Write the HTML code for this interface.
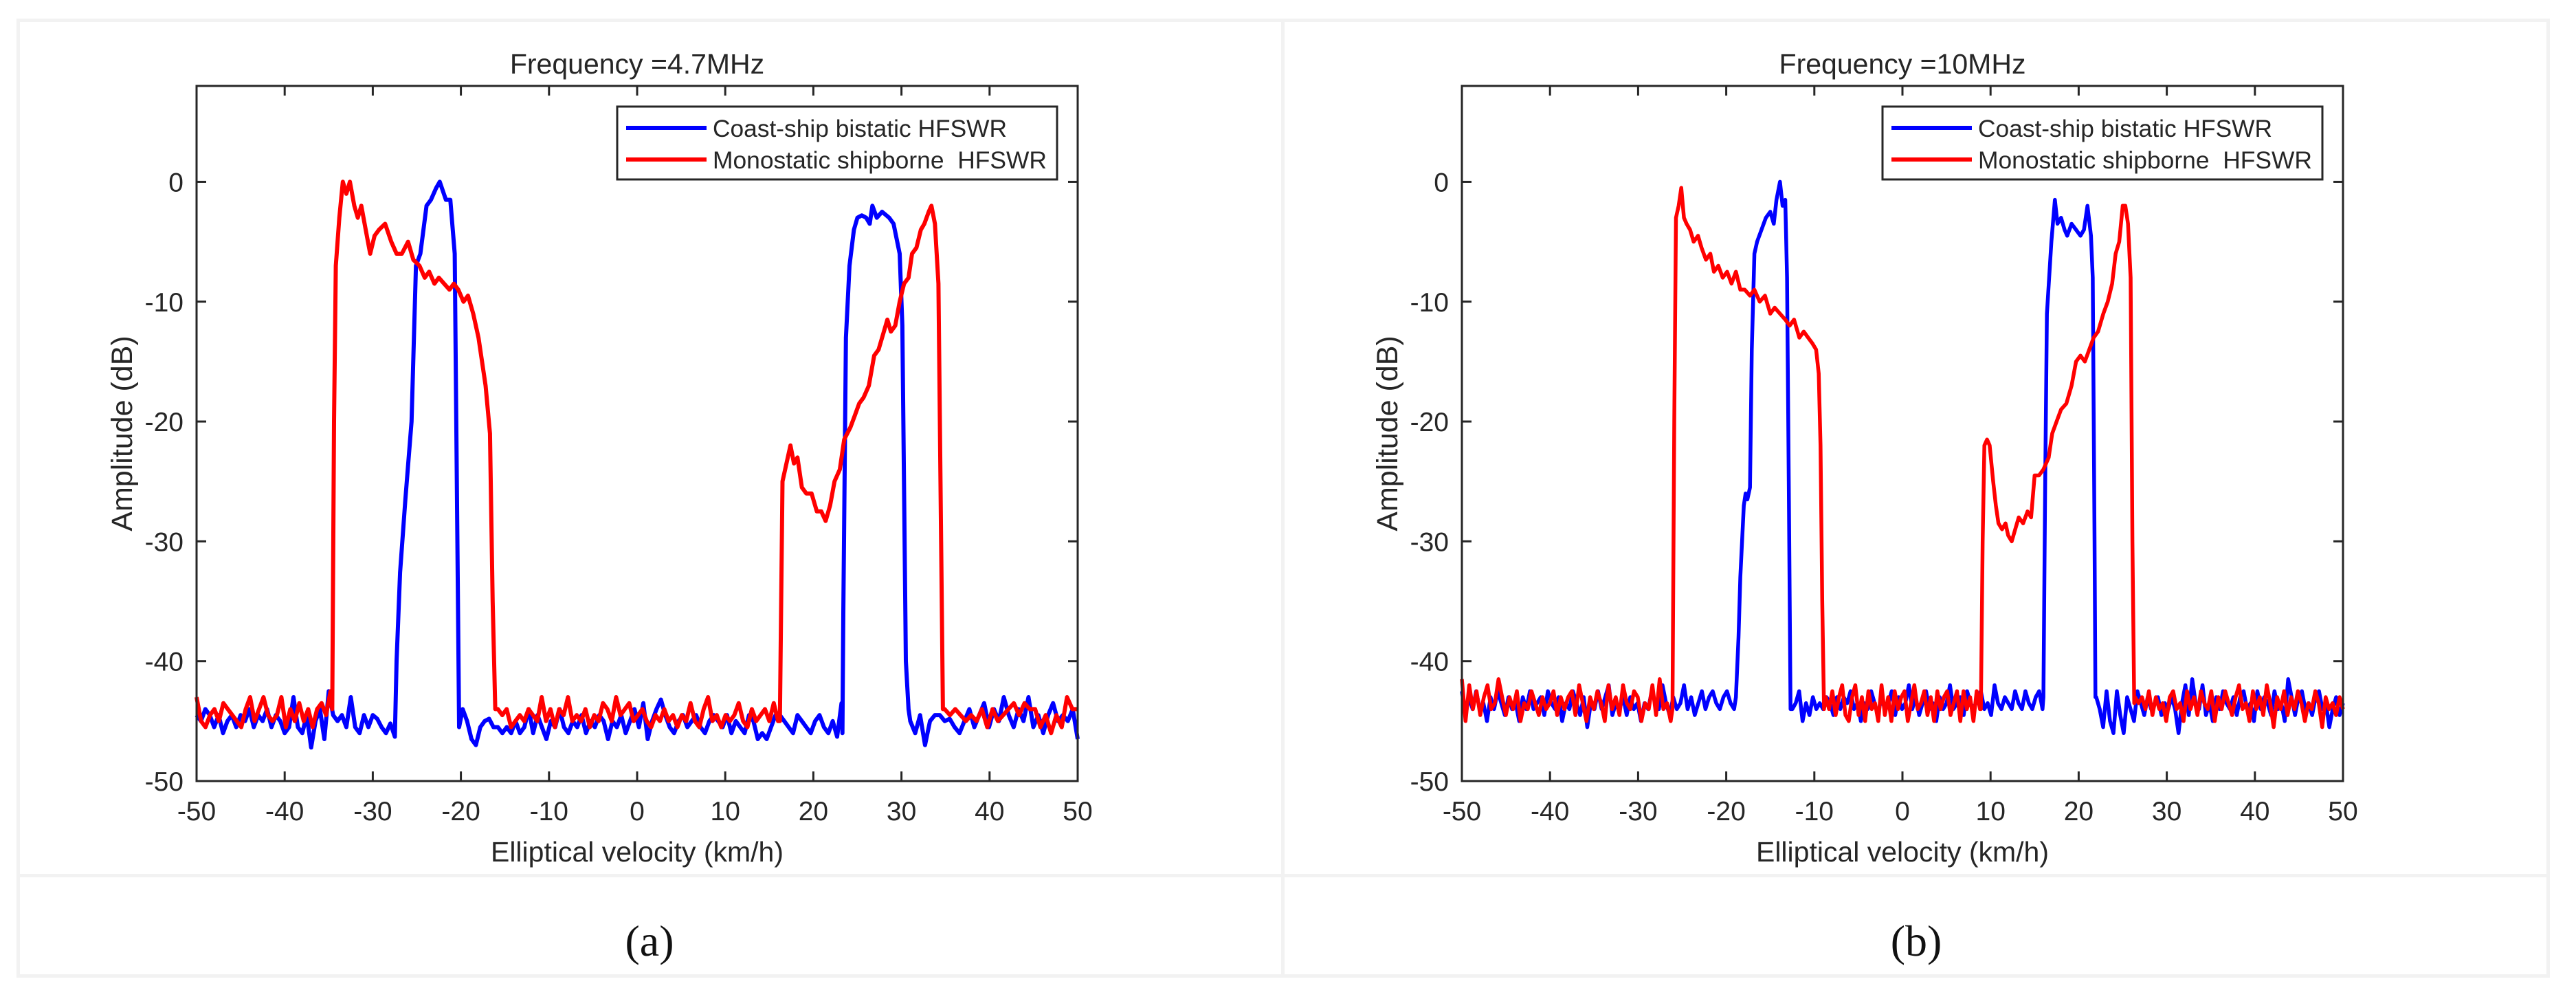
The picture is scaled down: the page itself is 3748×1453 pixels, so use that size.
<!DOCTYPE html>
<html><head><meta charset="utf-8"><style>
html,body{margin:0;padding:0;background:#fff;}
svg{display:block;}
text{font-family:"Liberation Sans",sans-serif;fill:#262626;}
</style></head><body>
<svg id="fig" width="3748" height="1453" viewBox="0 0 3748 1453" xmlns="http://www.w3.org/2000/svg">
<g fill="#f2f2f2">
<rect x="24" y="27" width="3686" height="5"/>
<rect x="24" y="27" width="5" height="1395"/>
<rect x="3705" y="27" width="5" height="1395"/>
<rect x="24" y="1417" width="3686" height="5"/>
<rect x="24" y="1271" width="3686" height="5"/>
<rect x="1864" y="27" width="5" height="1395"/>
</g>
<text x="945" y="1390" text-anchor="middle" style="font-family:'Liberation Serif',serif;font-size:64px;fill:#111">(a)</text>
<text x="2788" y="1390" text-anchor="middle" style="font-family:'Liberation Serif',serif;font-size:64px;fill:#111">(b)</text>
</svg>
<script>
// ---------- data: panel (a) 4.7 MHz ----------
const xTicks = [-50,-40,-30,-20,-10,0,10,20,30,40,50];
const yTicks = [0,-10,-20,-30,-40,-50];
const seriesNames = ["Coast-ship bistatic HFSWR","Monostatic shipborne\u00a0 HFSWR"];
const titles = ["Frequency =4.7MHz","Frequency =10MHz"];

const aBlueNoise1 = [-44.5,-45,-44,-44.5,-45.5,-44.5,-46,-45,-44.5,-45.5,-44.5,-45,-44,-45.5,-44.5,-45,-44,-45.5,-44.5,-45,-46,-45.5,-43,-45.5,-46,-44.5,-47.2,-45,-44,-46.5,-42.5,-44.5,-45,-44.5,-45.5,-43,-45.5,-46,-44.5,-45.5,-44.5,-44.8,-45.5,-46,-45.2,-46.3];
const aBluePeak1 = [[-27.3,-40],[-26.9,-32.6],[-26.3,-26.5],[-25.6,-20],[-25.1,-7],[-24.6,-6],[-23.9,-2],[-23.4,-1.5],[-22.8,-0.5],[-22.4,0],[-21.7,-1.5],[-21.2,-1.5],[-20.7,-6],[-20.2,-45.5]];
const aBlueNoise2 = [-44,-45,-46.5,-47,-45.5,-45,-44.8,-45.5,-45.5,-46,-45.5,-46,-45,-46,-45.5,-44,-46,-44.5,-45.5,-46.5,-45,-45.5,-44,-45.5,-46,-45,-45.5,-44.5,-46,-45,-45.5,-44.5,-45,-46.5,-45,-45.5,-44.5,-46,-45,-44,-45.5,-43.5,-46.5,-45,-44,-43.2,-44.5,-45.5,-46,-45,-44.5,-45.5,-45,-44.5,-45.5,-46,-45,-44.5,-45,-45.5,-44.5,-46,-45,-45.5,-46,-44.5,-45,-46.5,-46,-46.5,-45.5,-44.5,-44.5,-45,-45.5,-46,-44.5,-45,-45.5,-46,-45,-44.5,-45.5,-46,-45,-46.3,-43.5];
const aBluePeak2 = [[23.3,-46],[23.4,-36],[23.7,-13],[24.1,-7],[24.6,-4],[25.0,-3],[25.5,-2.8],[26.0,-3],[26.4,-3.5],[26.7,-2],[27.2,-3],[27.8,-2.5],[28.6,-3],[29.1,-3.5],[29.8,-6],[30.1,-12],[30.5,-40],[30.8,-44]];
const aBlueNoise3 = [-45,-46,-44.5,-47,-45,-44.5,-44.5,-45,-44.8,-45.5,-46,-45,-44,-45.5,-44.5,-43.5,-45.5,-44,-45,-43,-44.5,-45.5,-44,-45,-43,-45.5,-44.5,-46,-44.5,-43.5,-45,-44.5,-45,-44,-46.5];

const aRedNoise1 = [-43,-45,-45.5,-44.5,-44,-45,-43.5,-44,-44.5,-45,-45.5,-44,-43,-45,-44,-43,-44.5,-45,-44.5,-43,-45.5,-44,-45,-43.5,-45,-44,-45.5,-44,-43.5,-44.5,-42.5];
const aRedPeak1 = [[-34.6,-44],[-34.4,-20],[-34.2,-7],[-33.8,-3],[-33.4,0],[-33.0,-1],[-32.6,0],[-32.1,-2],[-31.7,-3],[-31.3,-2],[-30.8,-4],[-30.3,-6],[-29.8,-4.5],[-29.3,-4],[-28.6,-3.5],[-27.9,-5],[-27.3,-6],[-26.7,-6],[-26.0,-5],[-25.4,-6.5],[-24.7,-7],[-24.1,-8],[-23.6,-7.5],[-23.0,-8.5],[-22.5,-8],[-21.9,-8.5],[-21.3,-9],[-20.8,-8.5],[-20.3,-9],[-19.7,-10],[-19.2,-9.5],[-18.6,-11],[-18.0,-13],[-17.2,-17],[-16.7,-21],[-16.4,-35],[-16.1,-44]];
const aRedNoise2 = [-44,-44.5,-44,-45.5,-45,-44.5,-45,-44,-44.5,-45,-43,-45,-44,-45.5,-44,-44.5,-43,-45,-44.5,-45,-44,-45.5,-44.5,-45,-43.5,-44,-45,-43,-44.5,-44,-43.5,-45,-44.5,-44,-45,-45.5,-44.5,-45,-44,-45,-44.5,-45.5,-44.5,-45,-43.5,-45,-45.5,-44,-43,-45,-44.5,-45.5,-44.5,-45,-44.5,-43.5,-45,-45.5,-44,-45,-44.5,-44,-45,-43.5,-45];
const aRedPeak2 = [[16.2,-45],[16.5,-25],[17.1,-23],[17.4,-22],[17.8,-23.5],[18.2,-23],[18.7,-25.5],[19.2,-26],[19.8,-26],[20.4,-27.5],[20.9,-27.5],[21.4,-28.3],[21.9,-27],[22.4,-25],[23.0,-24],[23.5,-21.5],[24.2,-20.5],[24.7,-19.5],[25.2,-18.5],[25.7,-18],[26.3,-17],[26.9,-14.5],[27.4,-14],[28.0,-12.5],[28.4,-11.5],[28.8,-12.5],[29.3,-12],[29.8,-10],[30.3,-8.5],[30.8,-8],[31.2,-6],[31.7,-5.5],[32.2,-4],[32.6,-3.5],[33.1,-2.5],[33.4,-2],[33.8,-3.5],[34.2,-8.5],[34.5,-30],[34.7,-44]];
const aRedNoise3 = [-44,-44.5,-44,-44.5,-45,-44.5,-45,-44,-45.5,-44,-45,-44.5,-44,-43.5,-44.5,-43.5,-44,-44,-45.5,-44.5,-46,-44.5,-45.5,-43,-44,-44];

// ---------- data: panel (b) 10 MHz ----------
const bBlueNoise1 = [-42.5,-44.5,-43,-44,-42.5,-44,-43.5,-45,-43,-44,-42.5,-43.5,-44.5,-43,-44,-43.5,-45,-43,-44,-42.5,-44,-43.5,-43,-44.5,-42.5,-43.5,-44,-43,-45,-43.5,-44,-42.5,-43.5,-44.5,-43,-45.5,-43.5,-44,-42.5,-44,-43,-42,-44.5,-43.5,-44,-43,-44.5,-43,-44,-43.5,-45,-43.5,-44,-42.5,-43.5,-44,-42,-43.5,-44.5,-43,-44,-43.5,-42,-44,-43,-44.5,-43.5,-42.5,-44,-43,-42.5,-43.5,-44,-43,-42.5,-43.5,-44];
const bBluePeak1 = [[-18.9,-43],[-18.6,-38],[-18.4,-33],[-18.0,-27],[-17.8,-26],[-17.6,-26.5],[-17.3,-25.5],[-17.1,-14],[-16.8,-6],[-16.5,-5],[-16.0,-4],[-15.5,-3],[-15.0,-2.5],[-14.6,-3.5],[-14.3,-1.5],[-13.9,0],[-13.6,-2],[-13.3,-1.5],[-13.1,-8],[-12.9,-25],[-12.7,-44]];
const bBlueNoise2 = [-44,-43.5,-42.5,-45,-43.5,-44.5,-43,-44,-43.5,-44,-43,-43.5,-44.5,-43,-44,-43,-43.5,-42.5,-44,-43.5,-45,-43.5,-44,-42.5,-43.5,-44.5,-43,-44,-43.5,-42.5,-44.5,-43,-44,-43.5,-42,-44,-43,-44.5,-43.5,-42.5,-44,-43.5,-45,-43,-44,-43.5,-42,-44,-43.5,-43,-44.5,-42.5,-43.5,-44,-43,-42.5,-44,-43.5,-44.5,-42,-43.5,-44,-43,-43.5,-44,-42.5,-43.5,-44,-42.5,-43.5,-44,-43,-42.5,-44];
const bBluePeak2 = [[16.0,-43],[16.2,-25],[16.4,-11],[16.9,-5],[17.3,-1.5],[17.6,-3.5],[18.0,-3],[18.4,-4],[18.7,-4.5],[19.2,-3.5],[19.7,-4],[20.2,-4.5],[20.6,-4],[21.0,-2],[21.4,-4.5],[21.6,-8],[21.8,-30],[21.9,-43]];
const bBlueNoise3 = [-43,-44,-45.5,-42.5,-45,-46,-42.5,-44.5,-46,-43,-44,-45,-42.5,-43.5,-44.5,-43,-44,-43.5,-43,-44.5,-43.5,-44,-43,-44,-46,-43.5,-42,-44.5,-41.5,-43.5,-44,-42,-44.5,-43.5,-45,-43,-44,-42.5,-43.5,-44,-43,-44.5,-43,-42.5,-44,-43.5,-45,-42.5,-44,-43,-43.5,-44.5,-42.5,-44,-43.5,-45,-41.5,-43,-44.5,-43,-42.5,-44,-43.5,-44.5,-43,-42.5,-44,-43.5,-45.5,-44,-43,-44.5,-43.5];

const bRedNoise1 = [-41.5,-45,-42,-44,-42.5,-44.5,-43,-42,-44,-43.5,-41.5,-43,-44.5,-43,-44,-42.5,-45,-43.5,-44,-42.5,-43.5,-44.5,-43,-44,-43.5,-42.5,-44.5,-43,-44,-43,-42.5,-44.5,-42,-43.5,-45,-43,-44,-42.5,-43.5,-45,-42,-44,-43,-44.5,-42,-43.5,-44,-42.5,-43,-45,-43.5,-44,-42,-44.5,-41.5,-44,-43.5,-45];
const bRedPeak1 = [[-26.1,-44],[-25.9,-20],[-25.7,-3],[-25.4,-2],[-25.1,-0.5],[-24.8,-3],[-24.5,-3.5],[-24.1,-4],[-23.7,-5],[-23.2,-4.5],[-22.8,-5.5],[-22.3,-6.5],[-21.8,-6],[-21.4,-7.5],[-20.9,-7],[-20.4,-8],[-19.9,-7.5],[-19.4,-8.5],[-18.9,-7.5],[-18.4,-9],[-17.9,-9],[-17.3,-9.5],[-16.8,-9],[-16.2,-10],[-15.6,-9.5],[-15.0,-11],[-14.5,-10.5],[-13.9,-11],[-13.3,-11.5],[-12.8,-12],[-12.3,-11.5],[-11.7,-13],[-11.2,-12.5],[-10.7,-13],[-10.2,-13.5],[-9.8,-14],[-9.5,-16],[-9.3,-22],[-9.1,-35],[-8.9,-44]];
const bRedNoise2 = [-43,-44,-42.5,-44.5,-43,-42,-44.5,-45,-43,-42,-44.5,-43,-45,-42.5,-44,-43.5,-45,-42,-44.5,-43,-45,-42.5,-44,-43,-42.5,-45,-43.5,-42,-44,-43.5,-42.5,-44.5,-43,-45,-42.5,-44,-43,-42.5,-44.5,-43.5,-42.5,-45,-42.5,-44,-43,-45,-42.5,-44];
const bRedPeak2 = [[8.9,-44],[9.1,-30],[9.3,-22],[9.6,-21.5],[9.9,-22],[10.3,-25],[10.6,-27],[10.9,-28.5],[11.3,-29],[11.7,-28.5],[12.0,-29.5],[12.4,-30],[12.8,-29],[13.2,-28],[13.7,-28.5],[14.2,-27.5],[14.6,-28],[15.0,-24.5],[15.5,-24.5],[16.0,-24],[16.6,-23],[17.0,-21],[17.5,-20],[18.0,-19],[18.6,-18.5],[19.2,-17],[19.7,-15],[20.2,-14.5],[20.7,-15],[21.2,-14],[21.7,-13],[22.2,-12.5],[22.8,-11],[23.3,-10],[23.8,-8.5],[24.2,-6],[24.6,-5],[25.0,-2],[25.3,-2],[25.6,-3.5],[25.9,-8],[26.1,-30],[26.3,-43.5]];
const bRedNoise3 = [-43,-43.5,-43,-44,-42.5,-44.5,-43,-44,-43.5,-45,-43,-42.5,-44,-43.5,-45,-42.5,-44,-43,-44.5,-42.5,-43.5,-44,-42.5,-45,-43,-44,-42.5,-43.5,-44.5,-43,-42,-44,-43.5,-45,-42.5,-44,-43,-44.5,-42,-43.5,-45.5,-43,-44,-42.5,-44.5,-43,-44,-42.5,-43.5,-45,-43.5,-44,-42.5,-43.5,-45.5,-43,-44,-43.5,-44.5,-43,-44];

const NS = "http://www.w3.org/2000/svg";
const svg = document.getElementById('fig');
function mk(tag, attrs, parent){const e=document.createElementNS(NS,tag);for(const k in attrs)e.setAttribute(k,attrs[k]);(parent||svg).appendChild(e);return e;}

function buildSeries(parts){
  const pts=[];
  parts.forEach(p=>{
    if(p.noise){const n=p.noise.length;p.noise.forEach((v,i)=>pts.push([p.x0+(p.x1-p.x0)*i/(n-1),v]));}
    else p.pts.forEach(q=>pts.push(q));
  });
  return pts;
}

const legendWidths=[428,486];

function drawPanel(cfg){
  const L=cfg.left,R=cfg.left+1282,T=125,B=1136;
  const xS=v=>L+(v+50)/100*(R-L);
  const yS=v=>B-(v+50)/58*(B-T);
  const g=mk('g',{});
  
  
  cfg.series.forEach(s=>{
    const d=s.pts.map((p,i)=>(i?'L':'M')+xS(p[0]).toFixed(1)+' '+yS(p[1]).toFixed(1)).join('');
    const path=mk('path',{d:d,fill:'none',stroke:s.color,'stroke-width':cfg.lw,'stroke-linejoin':'round'},g);
    
    
  });
  const box=mk('rect',{x:L,y:T,width:R-L,height:B-T,fill:'none',stroke:'#262626','stroke-width':3},g);
  
  
  xTicks.forEach(t=>{
    const x=xS(t);
    mk('line',{x1:x,x2:x,y1:B,y2:B-14,stroke:'#262626','stroke-width':3},g);
    mk('line',{x1:x,x2:x,y1:T,y2:T+14,stroke:'#262626','stroke-width':3},g);
    const tx=mk('text',{x:x,y:1193,'text-anchor':'middle','font-size':39},g);
    tx.textContent=t;
    
    
  });
  yTicks.forEach(t=>{
    const y=yS(t);
    mk('line',{x1:L,x2:L+14,y1:y,y2:y,stroke:'#262626','stroke-width':3},g);
    mk('line',{x1:R,x2:R-14,y1:y,y2:y,stroke:'#262626','stroke-width':3},g);
    const ty=mk('text',{x:L-19,y:y+14,'text-anchor':'end','font-size':39},g);
    ty.textContent=t;
    
    
  });
  const title=mk('text',{x:(L+R)/2,y:107,'text-anchor':'middle','font-size':41,fill:'#000'},g);
  title.textContent=cfg.title;
  
  
  const xl=mk('text',{x:(L+R)/2,y:1253,'text-anchor':'middle','font-size':41},g);
  xl.textContent='Elliptical velocity (km/h)';
  
  
  const yl=mk('text',{x:0,y:0,'text-anchor':'middle','font-size':43,fill:'#404040',transform:'translate('+(L-94)+','+((T+B)/2)+') rotate(-90)'},g);
  yl.textContent='Amplitude (dB)';
  
  
  const lx=L+612;
  const leg=mk('g',{},g);
  
  
  mk('rect',{x:lx,y:155,width:640,height:106,fill:'#fff',stroke:'#262626','stroke-width':3},leg);
  cfg.series.forEach((s,i)=>{
    const y=186+i*46;
    const ent=mk('g',{},leg);
    
    
    mk('line',{x1:lx+13,x2:lx+130,y1:y,y2:y,stroke:s.color,'stroke-width':6},ent);
    const t=mk('text',{x:lx+139,y:y+13,'font-size':35,fill:'#000',textLength:legendWidths[i],lengthAdjust:'spacingAndGlyphs'},ent);
    t.textContent=seriesNames[i];
  });
}

drawPanel({name:'chart-a',left:286,lw:6,title:titles[0],series:[
  {name:'series-coast-ship-a',color:'#0000ff',pts:buildSeries([{x0:-50,x1:-27.5,noise:aBlueNoise1},{pts:aBluePeak1},{x0:-19.8,x1:23.2,noise:aBlueNoise2},{pts:aBluePeak2},{x0:31,x1:50,noise:aBlueNoise3}])},
  {name:'series-monostatic-a',color:'#ff0000',pts:buildSeries([{x0:-50,x1:-34.8,noise:aRedNoise1},{pts:aRedPeak1},{x0:-15.8,x1:16.0,noise:aRedNoise2},{pts:aRedPeak2},{x0:34.9,x1:50,noise:aRedNoise3}])}
]});
drawPanel({name:'chart-b',left:2127,lw:5.5,title:titles[1],series:[
  {name:'series-coast-ship-b',color:'#0000ff',pts:buildSeries([{x0:-50,x1:-19.1,noise:bBlueNoise1},{pts:bBluePeak1},{x0:-12.5,x1:15.9,noise:bBlueNoise2},{pts:bBluePeak2},{x0:22.0,x1:50,noise:bBlueNoise3}])},
  {name:'series-monostatic-b',color:'#ff0000',pts:buildSeries([{x0:-50,x1:-26.3,noise:bRedNoise1},{pts:bRedPeak1},{x0:-8.7,x1:8.8,noise:bRedNoise2},{pts:bRedPeak2},{x0:26.4,x1:50,noise:bRedNoise3}])}
]});
</script>
</body></html>
